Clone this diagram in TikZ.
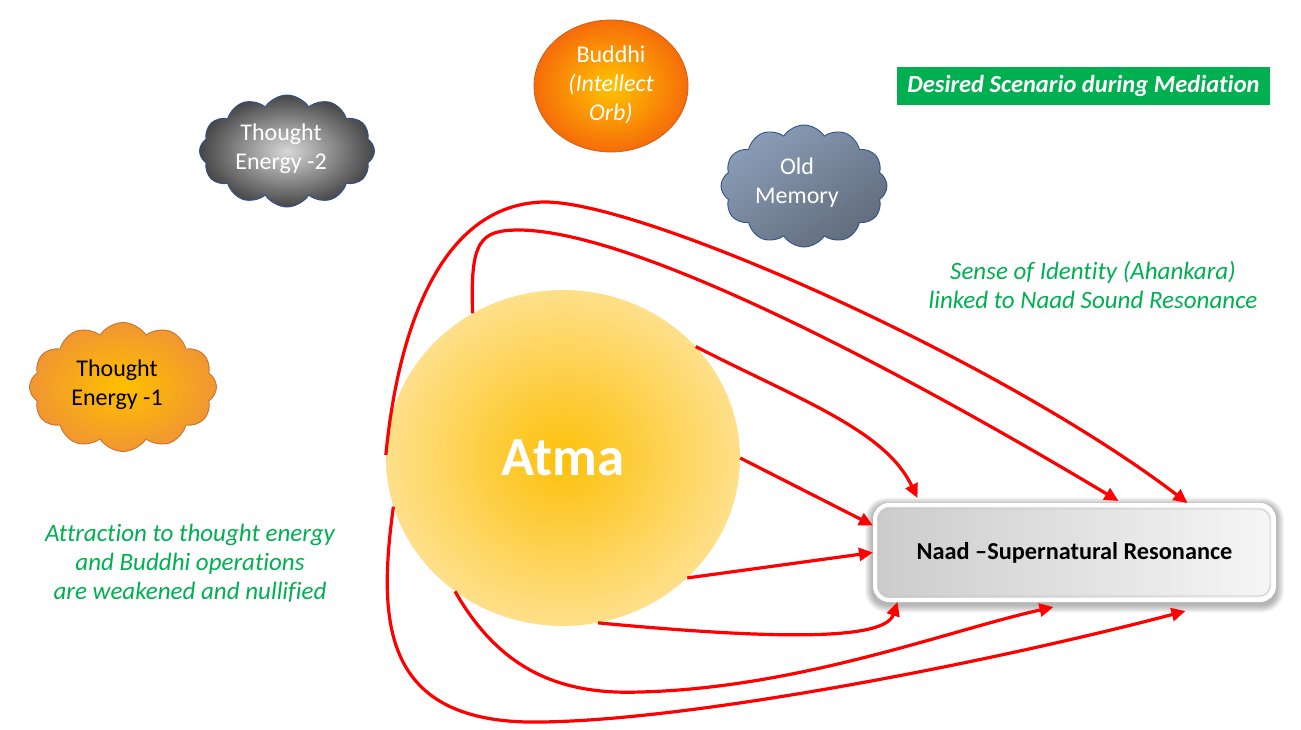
\documentclass[tikz,border=0pt]{standalone}
\usepackage{fontspec}
\setmainfont{Carlito}[Ligatures=NoCommon]
\usetikzlibrary{shapes.geometric,shapes.symbols,arrows.meta}
\definecolor{arrowred}{RGB}{255,0,0}
\definecolor{mgreen}{RGB}{0,176,80}
\definecolor{atmain}{RGB}{253,192,10}
\definecolor{atmaout}{RGB}{254,224,138}
\definecolor{orbin}{RGB}{255,196,0}
\definecolor{orbout}{RGB}{246,108,10}
\definecolor{orbline}{RGB}{205,95,20}
\definecolor{graycin}{RGB}{215,215,215}
\definecolor{graycout}{RGB}{70,70,70}
\definecolor{cloudline}{RGB}{47,82,143}
\definecolor{slatetop}{RGB}{138,157,183}
\definecolor{slatebot}{RGB}{98,108,124}
\definecolor{orcin}{RGB}{255,192,0}
\definecolor{orcout}{RGB}{240,150,50}
\definecolor{orcline}{RGB}{200,115,45}
\begin{document}
\begin{tikzpicture}[x=1pt,y=-1pt,
  flow/.style={draw=arrowred, line width=3.2pt, -{Triangle[length=14pt,width=13pt]}},
  lbl/.style={font=\fontsize{24}{29}\selectfont, align=center, inner sep=0pt},
  note/.style={lbl, text=mgreen, font=\fontsize{25}{29}\selectfont\itshape},
  cloudbox/.style={cloud, cloud puffs=12, cloud puff arc=115, line width=0.9pt}]
\useasboundingbox (0,0) rectangle (1301,730);
\fill[white] (0,0) rectangle (1301,730);

% title
\node[fill=mgreen, minimum width=373pt, minimum height=38pt, inner sep=0pt,
  text=white, font=\fontsize{24.5}{29}\selectfont\bfseries\itshape] (title) at (1083.5,86)
  {Desired Scenario during Mediation};

% clouds and orb
\node[cloudbox, draw=cloudline, inner color=graycin, outer color=graycout,
  minimum width=175pt, minimum height=112pt] (c2) at (287,151) {};
\node[lbl, text=white] (c2t) at (281,149) {Thought\\Energy -2};

\node[cloudbox, draw=cloudline, top color=slatetop, bottom color=slatebot, shading angle=35,
  minimum width=166pt, minimum height=122pt] (mem) at (804,186) {};
\node[lbl, text=white] (memt) at (797,183) {Old\\Memory};

\node[cloudbox, draw=orcline, inner color=orcin, outer color=orcout,
  minimum width=187pt, minimum height=129pt] (c1) at (123,387) {};
\node[lbl, text=black] (c1t) at (117,385) {Thought\\Energy -1};

\node[ellipse, draw=orbline, line width=0.8pt, inner color=orbin, outer color=orbout,
  minimum width=154pt, minimum height=132pt] (orb) at (611,86) {};
\node[lbl, text=white] (orbt) at (611,85) {Buddhi\\\textit{(Intellect}\\\textit{Orb)}};

% notes
\node[note] (n1) at (1093,285) {Sense of Identity (Ahankara)\\linked to Naad Sound Resonance};
\node[note] (n2) at (190,563) {Attraction to thought energy\\and Buddhi operations\\are weakened and nullified};

% Atma
\node[ellipse, inner color=atmain, outer color=atmaout, minimum width=354pt, minimum height=336pt,
  text=white, font=\fontsize{55}{60}\selectfont\bfseries] (atma) at (563,458) {Atma};

% Naad box with shadow
\foreach \i in {1,...,8}{
  \node[fill=black, opacity=0.04, rounded corners={14+\i}, minimum width={403+2*\i},
    minimum height={99+2*\i}, inner sep=0pt] (sh\i) at (1074.5,555) {};
}
\node[draw=white, line width=4pt, rounded corners=14pt, left color=gray!40, right color=gray!7,
  minimum width=399pt, minimum height=95pt, inner sep=0pt,
  font=\fontsize{24}{29}\selectfont\bfseries] (naad) at (1074.5,552.5) {};
\node[draw=gray!45, line width=0.8pt, rounded corners=11pt, minimum width=391pt, minimum height=87pt,
  inner sep=0pt, font=\fontsize{24.3}{29}\selectfont\bfseries] (naadt) at (1074.5,552.5)
  {Naad --Supernatural Resonance};

% connectors
\draw[flow] (atma.179) .. controls (398,330) and (440,205) .. (543,202)
  .. controls (640,200) and (1000,360) .. ([xshift=113pt]naad.north);
\draw[flow] (atma.122) .. controls (470,240) and (480,230) .. (520,230)
  .. controls (650,232) and (950,400) .. ([xshift=44pt,yshift=2pt]naad.north);
\draw[flow] (atma.40) .. controls (800,400) and (885,430) .. ([xshift=-157pt,yshift=5pt]naad.north);
\draw[flow] (atma.0) -- ([yshift=27pt]naad.west);
\draw[flow] (atma.-44) -- (naad.west);
\draw[flow] (atma.-78) .. controls (780,640) and (885,640) .. ([xshift=-177pt]naad.south);
\draw[flow] (atma.-129) .. controls (500,670) and (560,695) .. (640,692)
  .. controls (800,688) and (950,630) .. ([xshift=-21pt,yshift=-5pt]naad.south);
\draw[flow] (atma.196) .. controls (378,620) and (380,725) .. (541,722)
  .. controls (700,720) and (1000,660) .. ([xshift=111pt,yshift=-9pt]naad.south);
\end{tikzpicture}
\end{document}
